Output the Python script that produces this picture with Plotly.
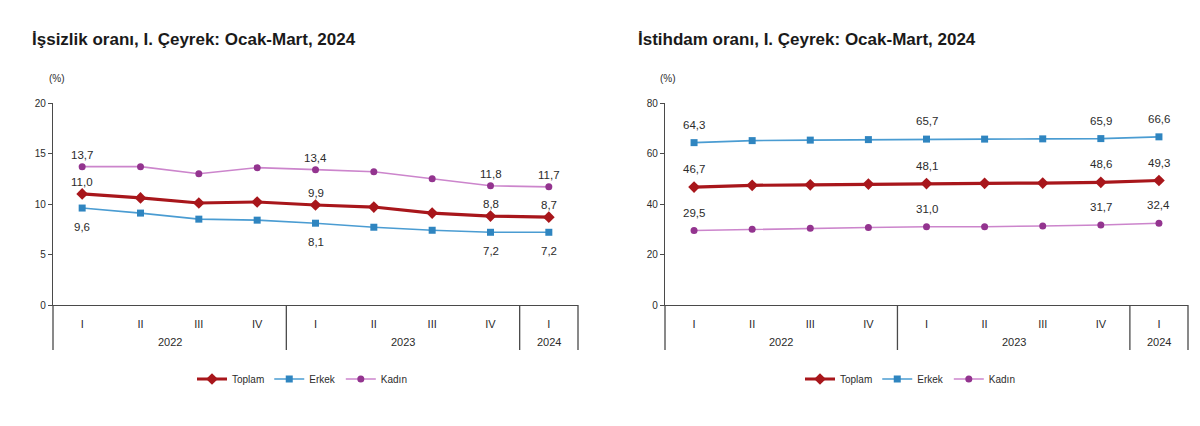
import plotly.graph_objects as go

years = ["2022"] * 4 + ["2023"] * 4 + ["2024"]
quarters = ["I", "II", "III", "IV", "I", "II", "III", "IV", "I"]

# Unemployment rate (İşsizlik oranı), %
u_toplam = [11.0, 10.6, 10.1, 10.2, 9.9, 9.7, 9.1, 8.8, 8.7]
u_erkek = [9.6, 9.1, 8.5, 8.4, 8.1, 7.7, 7.4, 7.2, 7.2]
u_kadin = [13.7, 13.7, 13.0, 13.6, 13.4, 13.2, 12.5, 11.8, 11.7]

# Employment rate (İstihdam oranı), %
e_toplam = [46.7, 47.4, 47.6, 47.9, 48.1, 48.2, 48.3, 48.6, 49.3]
e_erkek = [64.3, 65.1, 65.3, 65.5, 65.7, 65.7, 65.8, 65.9, 66.6]
e_kadin = [29.5, 30.0, 30.4, 30.7, 31.0, 31.0, 31.3, 31.7, 32.4]

labeled = [0, 4, 7, 8]

FONT = "Liberation Sans, Arial, sans-serif"
TXT = "#2b2b2b"
AX = "#4a4a4a"
# the page body keeps the browser's default 8px margin
OFF = 8
W, H = 1200 - OFF, 426 - OFF

def px(v):
    return (v - OFF) / W

def py(v):
    return 1 - (v - OFF) / H

styles = {
    "Toplam": dict(line=dict(color="#A8161B", width=3.2),
                   marker=dict(symbol="diamond", size=9, color="#A8161B")),
    "Erkek": dict(line=dict(color="#4A9CD2", width=1.6),
                  marker=dict(symbol="square", size=7, color="#2F85C0")),
    "Kadın": dict(line=dict(color="#CC85CC", width=1.6),
                  marker=dict(symbol="circle", size=7, color="#93348F")),
}

idx = list(range(len(quarters)))

def fmt(v):
    return f"{v:.1f}".replace(".", ",")

fig = go.Figure()

panels = [
    dict(xa="x", ya="y", leg="legend", dom=(53, 578), yr=(0, 20), dt=5,
         title="İşsizlik oranı, I. Çeyrek: Ocak-Mart, 2024", tx=30, pct=57,
         series=[("Toplam", u_toplam, 12), ("Erkek", u_erkek, -19), ("Kadın", u_kadin, 12)],
         legx=302),
    dict(xa="x2", ya="y2", leg="legend2", dom=(665, 1188), yr=(0, 80), dt=20,
         title="İstihdam oranı, I. Çeyrek: Ocak-Mart, 2024", tx=636, pct=668,
         series=[("Toplam", e_toplam, 18), ("Erkek", e_erkek, 18), ("Kadın", e_kadin, 18)],
         legx=910),
]

y_top, y_bot = 103, 305
ydom = [py(y_bot), py(y_top)]

layout = dict(width=W, height=H, margin=dict(l=0, r=0, t=0, b=0, autoexpand=False),
              paper_bgcolor="white", plot_bgcolor="white", showlegend=True)

for p in panels:
    for name, vals, shift in p["series"]:
        fig.add_trace(go.Scatter(x=idx, y=vals, name=name, mode="lines+markers",
                                 xaxis=p["xa"], yaxis=p["ya"], legend=p["leg"],
                                 cliponaxis=False, hoverinfo="skip", **styles[name]))
        for i in labeled:
            fig.add_annotation(x=idx[i], y=vals[i], xref=p["xa"], yref=p["ya"],
                               text=fmt(vals[i]), showarrow=False, yshift=shift,
                               font=dict(size=11.5, color=TXT, family=FONT))
    xkey = "xaxis" + p["xa"][1:]
    ykey = "yaxis" + p["ya"][1:]
    layout[xkey] = dict(domain=[px(p["dom"][0]), px(p["dom"][1])], anchor=p["ya"],
                        range=[-0.5, len(idx) - 0.5], tickvals=idx, ticktext=quarters,
                        showline=True, linecolor=AX, linewidth=1.3, ticks="",
                        ticklabelstandoff=9, showgrid=False, zeroline=False,
                        automargin=False, fixedrange=True,
                        tickfont=dict(size=11, color=TXT, family=FONT))
    layout[ykey] = dict(domain=ydom, anchor=p["xa"], range=list(p["yr"]), dtick=p["dt"],
                        showline=True, linecolor=AX, linewidth=1.3, ticks="outside",
                        ticklen=4, tickcolor=AX, showgrid=False, zeroline=False,
                        automargin=False, fixedrange=True,
                        tickfont=dict(size=10, color=TXT, family=FONT))
    layout[p["leg"]] = dict(orientation="h", x=px(p["legx"]), y=py(379),
                            xanchor="center", yanchor="middle",
                            font=dict(size=10, color=TXT, family=FONT),
                            bgcolor="rgba(0,0,0,0)", itemclick=False)

    # year group labels and dividers
    xdref = p["xa"] + " domain"
    n = len(idx)
    uniq = list(dict.fromkeys(years))
    bounds = [0]
    for yv in uniq:
        members = [i for i in idx if years[i] == yv]
        center = (sum(members) / len(members) + 0.5) / n
        fig.add_annotation(x=center, y=py(342), xref=xdref, yref="paper",
                           text=yv, showarrow=False, xanchor="center", yanchor="middle",
                           font=dict(size=11, color=TXT, family=FONT))
        bounds.append((members[-1] + 1) / n)
    for b in bounds:
        fig.add_shape(type="line", xref=xdref, yref="paper", x0=b, x1=b,
                      y0=py(y_bot), y1=py(350), line=dict(color=AX, width=1.3))

    fig.add_annotation(text=p["title"], xref="paper", yref="paper",
                       x=px(p["tx"]), y=py(40), xanchor="left", yanchor="middle",
                       showarrow=False,
                       font=dict(size=17, color="#1a1a1a", family=FONT, weight="bold"))
    fig.add_annotation(text="(%)", xref="paper", yref="paper", x=px(p["pct"]),
                       y=py(79), xanchor="center", yanchor="middle", showarrow=False,
                       font=dict(size=10, color=TXT, family=FONT))

fig.update_layout(**layout)
fig.write_html("out.html")
